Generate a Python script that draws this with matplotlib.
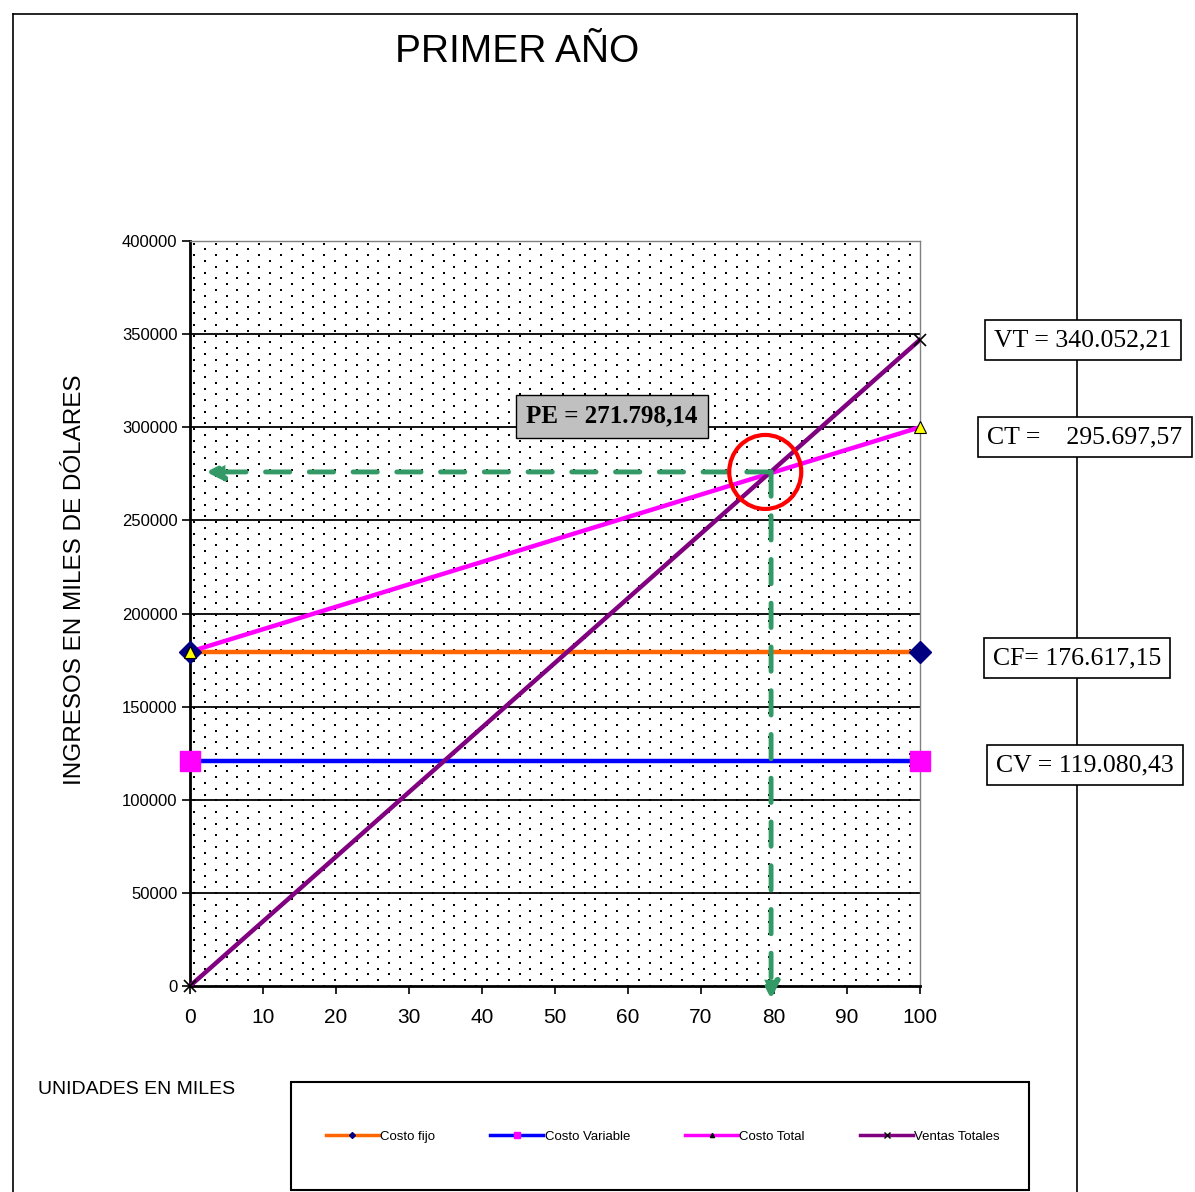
import numpy as np
from matplotlib import pyplot as plt
from matplotlib.patches import Rectangle, Ellipse
from matplotlib.lines import Line2D

# data (units in miles, values in dollars)
unidades = [0, 100]
costo_fijo = [179500, 179500]
costo_variable = [121000, 121000]
costo_total = [179500, 300000]
ventas_totales = [0, 347000]

pe_x = 79.6
pe_y = 276000

y_ticks = [0, 50000, 100000, 150000, 200000, 250000, 300000, 350000, 400000]
y_labels = ['0', '50000', '100000', '150000', '200000', '250000', '300000', '350000', '400000']
x_ticks = list(range(0, 101, 10))

boxes = [
    ('VT = 340.052,21', 1083, 340),
    ('CT =    295.697,57', 1085, 437),
    ('CF= 176.617,15', 1077, 658),
    ('CV = 119.080,43', 1085, 765),
]

W, H = 1195, 1192
fig = plt.figure(figsize=(W / 100, H / 100), dpi=100)
plt.rcParams['font.family'] = ['Liberation Sans', 'DejaVu Sans']

def fx(px):
    return px / W

def fy(py):
    return 1 - py / H

# outer frame of the chart
fig.add_artist(Line2D([fx(13), fx(13)], [fy(14), 0], color='black', lw=1.2))
fig.add_artist(Line2D([fx(13), fx(1077)], [fy(14), fy(14)], color='black', lw=1.2))
fig.add_artist(Line2D([fx(1077), fx(1077)], [fy(14), 0], color='black', lw=1.2))

ax = fig.add_axes([fx(190), fy(986), fx(920) - fx(190), fy(241) - fy(986)])
ax.set_xlim(0, 100)
ax.set_ylim(0, 400000)

# dotted background
ax_w, ax_h = 730, 745
rows = np.arange(0, ax_h, 5.8)
pts_x, pts_y = [], []
for i, r in enumerate(rows):
    off = 0 if i % 2 == 0 else 10.85
    cols = np.arange(4 + off, ax_w, 21.7)
    pts_x.extend(cols / ax_w)
    pts_y.extend([r / ax_h] * len(cols))
ax.scatter(pts_x, pts_y, s=2.2, color='black', marker='s', linewidths=0,
           transform=ax.transAxes, zorder=0)

for t in y_ticks[1:-1]:
    ax.axhline(t, color='black', lw=1.3, zorder=1)

ax.plot(unidades, costo_fijo, color='#FF6600', lw=3.2, zorder=3)
ax.plot(unidades, costo_variable, color='#0000FF', lw=3.2, zorder=3)
ax.plot(unidades, costo_total, color='#FF00FF', lw=3.2, zorder=4)
ax.plot(unidades, ventas_totales, color='#800080', lw=3.2, zorder=5)

ax.plot(unidades, costo_fijo, ls='none', marker='D', ms=11, color='#000080', zorder=6, clip_on=False)
ax.plot(unidades, costo_variable, ls='none', marker='s', ms=15, color='#FF00FF', zorder=6, clip_on=False)
ax.plot(unidades, costo_total, ls='none', marker='^', ms=8, mfc='#FFFF00', mec='black', mew=0.8,
        zorder=7, clip_on=False)
ax.plot(unidades, ventas_totales, ls='none', marker='x', ms=8, color='black', mew=1.2, zorder=7,
        clip_on=False)

# break-even arrows
green = '#339966'
ax.annotate('', xy=(2.2, pe_y), xytext=(pe_x, pe_y),
            arrowprops=dict(arrowstyle='-|>,head_length=1.0,head_width=0.5', color=green, lw=3.5,
                            linestyle=(0, (5, 4)), shrinkA=0, shrinkB=0), zorder=8)
ax.annotate('', xy=(pe_x, -7000), xytext=(pe_x, pe_y),
            arrowprops=dict(arrowstyle='-|>,head_length=1.0,head_width=0.5', color=green, lw=3.5,
                            linestyle=(0, (5, 4)), shrinkA=0, shrinkB=0), zorder=8,
            annotation_clip=False)
ax.add_patch(Ellipse((78.8, 276000), 72 / 7.3, 74 * 400000 / 745, fill=False,
                     ec='#FF0000', lw=3, zorder=9))

ax.text(57.8, 306000, 'PE = 271.798,14', family=['Liberation Serif', 'DejaVu Serif'],
        fontsize=18, fontweight='bold', ha='center', va='center', zorder=10,
        bbox=dict(boxstyle='square,pad=0.4', fc='#C0C0C0', ec='black', lw=1))

ax.set_xticks(x_ticks)
ax.set_yticks(y_ticks)
ax.set_yticklabels(y_labels)
ax.tick_params(axis='x', labelsize=15, length=6, width=1.2, direction='out', pad=10)
ax.tick_params(axis='y', labelsize=12, length=6, width=1.2, direction='out', pad=3)
for s in ['left', 'bottom']:
    ax.spines[s].set_linewidth(2)
for s in ['top', 'right']:
    ax.spines[s].set_color('#808080')
    ax.spines[s].set_linewidth(1)
ax.set_ylabel('INGRESOS EN MILES DE DÓLARES', fontsize=17.5)
ax.yaxis.set_label_coords(-0.143, 0.545)

fig.text(fx(517), fy(52), 'PRIMER AÑO', fontsize=28, ha='center', va='center')
fig.text(fx(38), fy(1090), 'UNIDADES EN MILES', fontsize=14, ha='left', va='center')

for label, cx, cy in boxes:
    fig.text(fx(cx), fy(cy), label, family=['Liberation Serif', 'DejaVu Serif'], fontsize=18.5,
             ha='center', va='center',
             bbox=dict(boxstyle='square,pad=0.35', fc='white', ec='black', lw=1.2))

# legend box
fig.add_artist(Rectangle((fx(291), fy(1190)), fx(1029) - fx(291), fy(1082) - fy(1190),
                         transform=fig.transFigure, fill=False, ec='black', lw=1.5))
handles = [
    Line2D([], [], color='#FF6600', lw=2.5, marker='D', ms=3, mfc='#000080', mec='#000080'),
    Line2D([], [], color='#0000FF', lw=2.5, marker='s', ms=4, mfc='#FF00FF', mec='#FF00FF'),
    Line2D([], [], color='#FF00FF', lw=2.5, marker='^', ms=3, mfc='black', mec='black'),
    Line2D([], [], color='#800080', lw=2.5, marker='x', ms=4, mec='black'),
]
fig.legend(handles, ['Costo fijo', 'Costo Variable', 'Costo Total', 'Ventas Totales'],
           loc='center', bbox_to_anchor=(fx(663), fy(1137)), ncol=4, frameon=False,
           fontsize=9.5, handlelength=4, handletextpad=0.1, columnspacing=4.2)

fig.savefig('out.png', dpi=100)
